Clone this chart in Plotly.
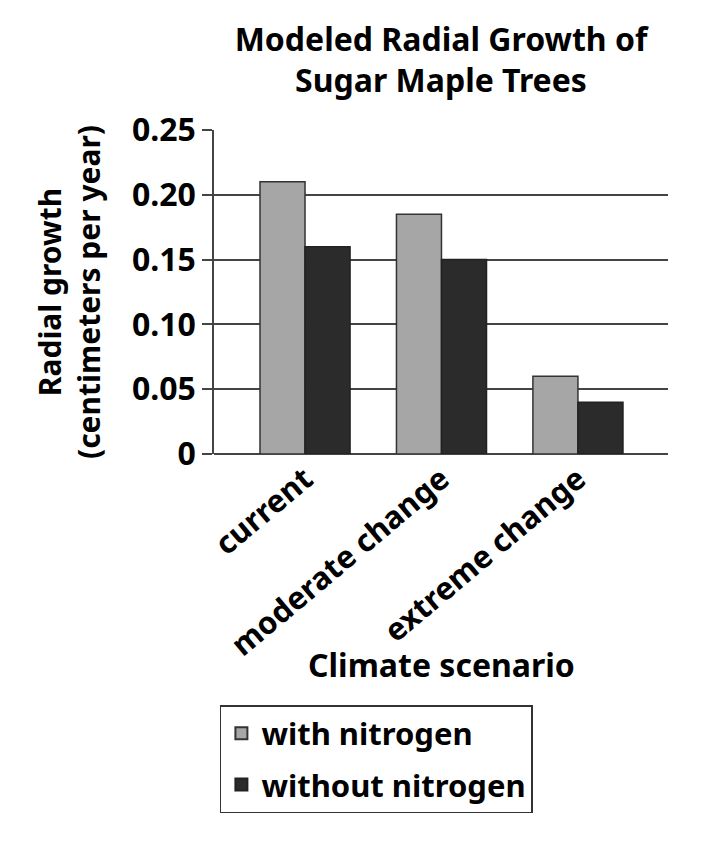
import plotly.graph_objects as go

categories = ["current", "moderate change", "extreme change"]
with_nitrogen = [0.21, 0.185, 0.06]
without_nitrogen = [0.16, 0.15, 0.04]
y_tick_vals = [0, 0.05, 0.10, 0.15, 0.20, 0.25]
y_tick_text = ["0", "0.05", "0.10", "0.15", "0.20", "0.25"]

FONT = "Noto Sans"
fig = go.Figure()
fig.add_trace(go.Bar(x=categories, y=with_nitrogen, name="with nitrogen", legendgroup="a",
                     marker=dict(color="#a6a6a6", line=dict(color="#333333", width=1.5))))
fig.add_trace(go.Bar(x=categories, y=without_nitrogen, name="without nitrogen", legendgroup="b",
                     marker=dict(color="#2b2b2b", line=dict(color="#222222", width=1.5))))

fig.update_layout(
    width=724, height=842,
    margin=dict(l=214, r=56, t=130, b=388),
    paper_bgcolor="white", plot_bgcolor="white",
    barmode="group", bargap=0.34, bargroupgap=0,
    font=dict(family=FONT, color="black"),
    title=dict(text="<b>Modeled Radial Growth of<br>Sugar Maple Trees</b>",
               xref="paper", x=0.5, xanchor="center", yref="container", y=0.94, yanchor="middle",
               font=dict(size=32, family=FONT, color="black")),
    showlegend=True,
    legend=dict(x=0.013, xanchor="left", y=-0.775, yanchor="top",
                bordercolor="#333333", borderwidth=1.5, bgcolor="white",
                font=dict(size=31, family=FONT, color="black", weight="bold"),
                itemsizing="constant", tracegroupgap=8),
    annotations=[dict(text="<b>Climate scenario</b>", xref="paper", yref="paper",
                      x=0.5, y=-0.651, xanchor="center", yanchor="middle", showarrow=False,
                      font=dict(size=32, family=FONT, color="black"))],
)
fig.update_xaxes(
    range=[-0.667, 2.66], tickangle=-40,
    tickfont=dict(size=31, family=FONT, color="black", weight="bold"),
    showline=False, ticks="",
)
fig.update_yaxes(
    range=[0, 0.25], tickvals=y_tick_vals, ticktext=y_tick_text,
    tickfont=dict(size=32, family=FONT, color="black", weight="bold"),
    showgrid=True, gridcolor="#444444", gridwidth=1.5,
    showline=True, linecolor="#444444", linewidth=1.5,
    ticks="outside", ticklen=10, tickcolor="#444444", tickwidth=1.5,
    zeroline=True, zerolinecolor="#444444", zerolinewidth=1.5,
    title=dict(text="<b>Radial growth<br>(centimeters per year)</b>",
               font=dict(size=30, family=FONT, color="black"), standoff=22),
)
fig.write_html("out.html")
